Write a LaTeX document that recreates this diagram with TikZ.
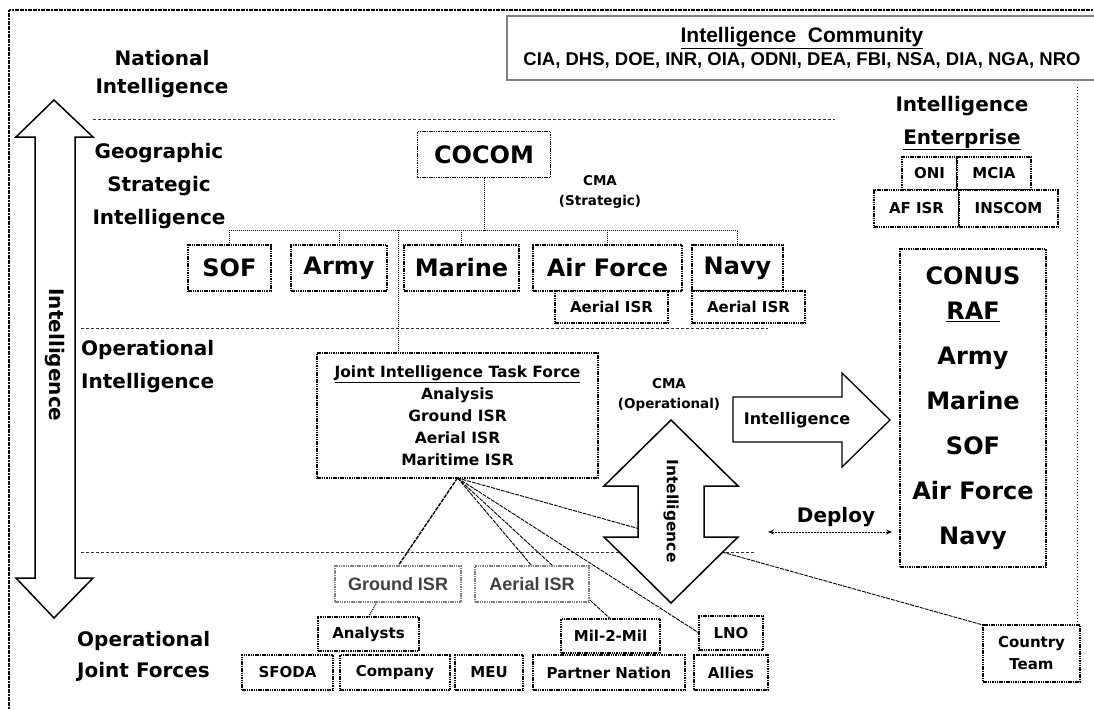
\documentclass[tikz,border=0pt]{standalone}
\usepackage{fontspec}
\setmainfont{DejaVu Sans}
\newfontfamily\arialf{Liberation Sans}
\usetikzlibrary{calc,arrows.meta}
\pgfdeclarelayer{bg}
\pgfsetlayers{bg,main}
\tikzset{
  lbl/.style={font=\bfseries\fontsize{20}{33}\selectfont, align=center, inner sep=0},
  bx/.style={draw, dash pattern=on 1.5pt off 0.8pt, line width=1.1pt, fill=white, inner sep=0, outer sep=0, align=center},
  bigbox/.style={bx, font=\bfseries\fontsize{24}{28}\selectfont},
  smbox/.style={bx, font=\bfseries\fontsize{15}{22}\selectfont},
  graybox/.style={draw=gray, line width=1.1pt, dash pattern=on 1.5pt off 0.8pt, fill=white, inner sep=0, outer sep=0, align=center, text=black!75, font=\arialf\bfseries\fontsize{18}{22}\selectfont},
  sepline/.style={dash pattern=on 2.5pt off 2.5pt, line width=0.9pt, black!80},
  tree/.style={dash pattern=on 1pt off 1pt, line width=0.9pt},
  fanline/.style={line width=0.9pt, dash pattern=on 4pt off 1pt},
  bigarrow/.style={draw, fill=white, line width=1.5pt, line join=miter},
  frameline/.style={line width=1.3pt, dash pattern=on 2pt off 0.6pt},
  cma/.style={font=\bfseries\fontsize{13.5}{20}\selectfont, align=center, inner sep=0},
}
\begin{document}
\begin{tikzpicture}[x=1pt,y=-1pt]
\useasboundingbox (0,0) rectangle (1094,709);
\begin{pgfonlayer}{bg}
\fill[white] (0,0) rectangle (1094,709);
\end{pgfonlayer}

% frame
\coordinate (fbl) at (9,709);
\coordinate (ftl) at (9,10);
\coordinate (ftr) at (1094,10);
\draw[frameline] (fbl) -- (ftl) -- (ftr);

% level labels
\node[lbl, font=\bfseries\fontsize{20}{28}\selectfont] (natl) at (162,74) {National\\Intelligence};
\node[lbl] (geo) at (159,186) {Geographic\\Strategic\\Intelligence};
\node[lbl, anchor=west, align=left] (opint) at (81,367) {Operational\\Intelligence};
\node[lbl, anchor=west, align=left, font=\bfseries\fontsize{20}{31}\selectfont] (opjf) at (77,656) {Operational\\Joint Forces};

% intelligence community
\node[draw=gray, line width=1.5pt, minimum width=590, minimum height=64, inner sep=0, align=center,
      font=\arialf\bfseries\fontsize{18.5}{23}\selectfont] (ic) at (802,48)
  {{\fontsize{21}{23}\selectfont\underline{Intelligence\ \ Community}}\\CIA, DHS, DOE, INR, OIA, ODNI, DEA, FBI, NSA, DIA, NGA, NRO};

% intelligence enterprise
\node[lbl] (ent) at (962,123) {Intelligence\\\underline{Enterprise}};
\node[smbox, minimum width=55, minimum height=33] (oni) at (929.5,173.5) {ONI};
\node[smbox, minimum width=74, minimum height=33] (mcia) at (994,173.5) {MCIA};
\node[smbox, minimum width=85, minimum height=37] (afisrE) at (916.5,208.5) {AF ISR};
\node[smbox, minimum width=99, minimum height=37] (inscom) at (1008.5,208.5) {INSCOM};

% right dotted border
\coordinate (rt) at (1077,87);
\coordinate (rb) at (1077,624);
\draw[dash pattern=on 1pt off 2pt, line width=0.9pt] (rt) -- (rb);

% COCOM and services
\node[bigbox, minimum width=133, minimum height=46] (cocom) at (484,154.5) {COCOM};
\node[cma] (cmas) at (600,192) {CMA\\(Strategic)};
\node[bigbox, minimum width=83, minimum height=46] (sof) at (229.5,268) {SOF};
\node[bigbox, minimum width=96, minimum height=46] (army) at (339,268) {Army};
\node[bigbox, minimum width=115, minimum height=46] (marine) at (461.5,268) {Marine};
\node[bigbox, minimum width=149, minimum height=46] (airforce) at (607.5,268) {Air Force};
\node[bigbox, minimum width=91, minimum height=46] (navy) at (737.5,268) {Navy};
\node[smbox, minimum width=113, minimum height=32] (afisr) at (611.5,307) {Aerial ISR};
\node[smbox, minimum width=113, minimum height=32] (navyisr) at (748.5,307) {Aerial ISR};

% JITF
\node[bx, minimum width=281, minimum height=125, font=\bfseries\fontsize{15.5}{22}\selectfont] (jitf) at (457.5,415.5)
  {\underline{Joint Intelligence Task Force}\\Analysis\\Ground ISR\\Aerial ISR\\Maritime ISR};
\node[cma] (cmao) at (669,395) {CMA\\(Operational)};

% CONUS RAF
\node[bx, minimum width=146, minimum height=318, font=\bfseries\fontsize{24}{45}\selectfont] (conus) at (973,408)
  {CONUS\\[-10pt]\underline{RAF}\\Army\\Marine\\SOF\\Air Force\\Navy};

% bottom boxes
\node[graybox, minimum width=126, minimum height=36] (groundisr) at (398,584) {Ground ISR};
\node[graybox, minimum width=114, minimum height=36] (aerialisr) at (532,584) {Aerial ISR};
\node[smbox, minimum width=101, minimum height=34] (analysts) at (368.5,634) {Analysts};
\node[smbox, minimum width=99, minimum height=34] (mil) at (610.5,636) {Mil-2-Mil};
\node[smbox, minimum width=64, minimum height=34] (lno) at (731,633) {LNO};
\node[smbox, minimum width=91, minimum height=35] (sfoda) at (287.5,672.5) {SFODA};
\node[smbox, minimum width=110, minimum height=35] (company) at (395,672.5) {Company};
\node[smbox, minimum width=68, minimum height=35] (meu) at (489,672.5) {MEU};
\node[smbox, minimum width=152, minimum height=35] (partner) at (609,672.5) {Partner Nation};
\node[smbox, minimum width=74, minimum height=35] (allies) at (731,672.5) {Allies};
\node[smbox, minimum width=97, minimum height=57] (country) at (1031.5,653.5) {Country\\Team};

% big arrows
\draw[bigarrow] (54,100) -- (93,137) -- (75,137) -- (75,578) -- (93,578) -- (54,618) -- (16,578) -- (35,578) -- (35,137) -- (16,137) -- cycle;
\node[rotate=-90, font=\bfseries\fontsize{20}{20}\selectfont] (lint) at (55,355) {Intelligence};

\draw[bigarrow] (671,420) -- (738,486) -- (704,486) -- (704,537) -- (738,537) -- (671,603) -- (604,537) -- (638,537) -- (638,486) -- (604,486) -- cycle;
\node[rotate=-90, font=\bfseries\fontsize{15.5}{16}\selectfont] (vint) at (671,511) {Intelligence};

\draw[bigarrow, line width=1.3pt] (733,397) -- (842,397) -- (842,373) -- (890,420) -- (842,467) -- (842,442) -- (733,442) -- cycle;
\node[font=\bfseries\fontsize{16}{16}\selectfont] (rint) at (797,420) {Intelligence};

% deploy
\node[font=\bfseries\fontsize{20}{20}\selectfont] (deploy) at (836,517) {Deploy};
\coordinate (depl) at (768,532);
\draw[{Stealth[length=6pt,width=5pt]}-{Stealth[length=6pt,width=5pt]}, dash pattern=on 1pt off 0.5pt, line width=0.9pt, shorten >=8pt] (depl) -- (depl -| conus.west);

% background lines
\begin{pgfonlayer}{bg}
\coordinate (s1a) at (93,119); \coordinate (s1b) at (835,119);
\coordinate (s2a) at (81,328); \coordinate (s2b) at (768,328);
\coordinate (s3a) at (81,552); \coordinate (s3b) at (756,552);
\draw[sepline] (s1a) -- (s1b);
\draw[sepline] (s2a) -- (s2b);
\draw[sepline] (s3a) -- (s3b);

\coordinate (bus) at (0,230);
\draw[tree] (cocom.south) -- (cocom.south |- bus);
\draw[tree] (sof.north) -- (sof.north |- bus) -- (navy.north |- bus) -- (navy.north);
\foreach \n in {army,marine,airforce} \draw[tree] (\n.north) -- (\n.north |- bus);
\coordinate (jtop) at (398,230);
\draw[tree] (jtop) -- (jtop |- jitf.north);

\coordinate (fan) at (jitf.south);
\draw[fanline, line width=1.4pt] (fan) -- (groundisr.north);
\draw[fanline] (fan) -- (aerialisr.north);
\draw[fanline] (fan) -- (mil.north);
\draw[fanline] (fan) -- (lno.west);
\draw[fanline] (fan) -- (country.north west);
\draw[tree, line width=1pt] ($(groundisr.south)+(-21,0)$) -- (analysts.north);
\end{pgfonlayer}
\end{tikzpicture}
\end{document}
